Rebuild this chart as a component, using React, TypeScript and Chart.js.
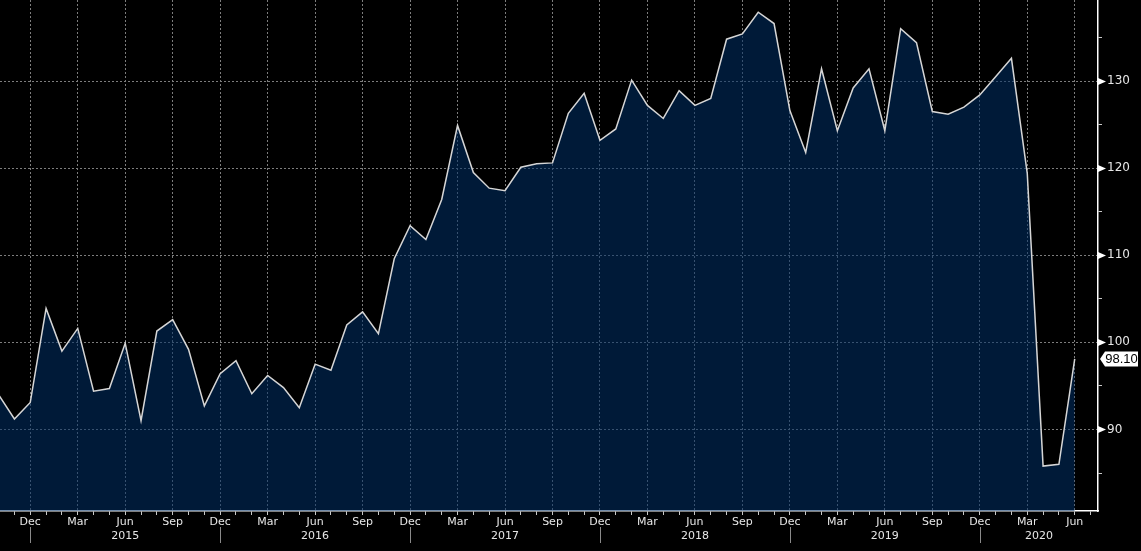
import React, { useEffect, useRef } from 'react';
import { Chart, registerables } from 'chart.js';

Chart.register(...registerables);

// Month index 0 = Oct 2014
const monthNames = ['Jan', 'Feb', 'Mar', 'Apr', 'May', 'Jun', 'Jul', 'Aug', 'Sep', 'Oct', 'Nov', 'Dec'];
const firstMonth = 9; // October (0-based)
const quarterMonths = ['Dec', 'Mar', 'Jun', 'Sep'];
const yearLabels = ['2015', '2016', '2017', '2018', '2019', '2020'];

const values2014 = [94.0, 91.2, 93.1];
const values2015 = [103.9, 99.0, 101.6, 94.4, 94.7, 99.9, 91.0, 101.3, 102.6, 99.2, 92.7, 96.4];
const values2016 = [97.9, 94.1, 96.2, 94.8, 92.5, 97.5, 96.8, 102.0, 103.5, 101.0, 109.6, 113.4];
const values2017 = [111.8, 116.4, 124.9, 119.5, 117.7, 117.4, 120.1, 120.5, 120.6, 126.3, 128.6, 123.2];
const values2018 = [124.5, 130.1, 127.2, 125.7, 128.9, 127.2, 128.0, 134.8, 135.4, 137.9, 136.6, 126.6];
const values2019 = [121.8, 131.4, 124.3, 129.2, 131.4, 124.3, 136.0, 134.4, 126.5, 126.2, 127.0, 128.4];
const values2020 = [130.5, 132.6, 119.4, 85.8, 86.0, 98.1];
const values = [...values2014, ...values2015, ...values2016, ...values2017, ...values2018, ...values2019, ...values2020];

const yTicks = [85, 90, 95, 100, 105, 110, 115, 120, 125, 130, 135];
const yLabelTicks = [90, 100, 110, 120, 130];
const lastLabel = '98.10';

const X_MIN = 0.088;
const X_MAX = 69.47;
const Y_MIN = 80.64;
const Y_MAX = 139.3;

const FONT = '"DejaVu Sans", Verdana, sans-serif';
const BOX_FONT = '"Liberation Sans", Arial, sans-serif';

const monthOf = (i: number) => (firstMonth + i) % 12;
const isQuarter = (i: number) => quarterMonths.includes(monthNames[monthOf(Math.round(i))]);

const overlayPlugin = {
  id: 'overlay',
  afterDraw(chart: any) {
    const { ctx, chartArea, scales } = chart;
    const xs = scales.x;
    const ys = scales.y;
    ctx.save();
    // triangles on major y ticks
    ctx.fillStyle = '#ffffff';
    for (const v of yLabelTicks) {
      const py = Math.round(ys.getPixelForValue(v)) + 0.5;
      const px = chartArea.right;
      ctx.beginPath();
      ctx.moveTo(px, py - 3.5);
      ctx.lineTo(px + 8, py);
      ctx.lineTo(px, py + 3.5);
      ctx.closePath();
      ctx.fill();
    }
    // year separators (at December) and year labels
    const decIdx: number[] = [];
    for (let i = 0; i < values.length; i++) if (monthOf(i) === 11) decIdx.push(i);
    ctx.strokeStyle = '#8a8a8a';
    ctx.lineWidth = 1;
    for (const d of decIdx) {
      const px = Math.round(xs.getPixelForValue(d)) + 0.5;
      ctx.beginPath();
      ctx.moveTo(px, 527);
      ctx.lineTo(px, 543);
      ctx.stroke();
    }
    ctx.fillStyle = '#e6e6e6';
    ctx.font = `11px ${FONT}`;
    ctx.textAlign = 'center';
    ctx.textBaseline = 'middle';
    yearLabels.forEach((lab, k) => {
      const a = xs.getPixelForValue(decIdx[k]);
      const b = k + 1 < decIdx.length ? xs.getPixelForValue(decIdx[k + 1]) : chartArea.right;
      ctx.fillText(lab, (a + b) / 2, 536);
    });
    // last value box
    const lastV = values[values.length - 1];
    const ly = ys.getPixelForValue(lastV);
    const bx = chartArea.right + 2;
    ctx.fillStyle = '#ffffff';
    ctx.beginPath();
    ctx.moveTo(bx, ly);
    ctx.lineTo(bx + 5, ly - 7.5);
    ctx.lineTo(1138, ly - 7.5);
    ctx.lineTo(1138, ly + 7.5);
    ctx.lineTo(bx + 5, ly + 7.5);
    ctx.closePath();
    ctx.fill();
    ctx.fillStyle = '#000000';
    ctx.textAlign = 'center';
    ctx.font = `13px ${BOX_FONT}`;
    ctx.fillText(lastLabel, (bx + 5 + 1138) / 2, ly + 0.5);
    ctx.restore();
  },
};

export default function App() {
  const ref = useRef<HTMLCanvasElement | null>(null);
  useEffect(() => {
    if (!ref.current) return;
    const chart = new Chart(ref.current, {
      type: 'line',
      data: {
        datasets: [
          {
            data: values.map((v, i) => ({ x: i, y: v })),
            borderColor: '#d6d6d6',
            borderWidth: 1.5,
            backgroundColor: 'rgba(0,47,102,0.55)',
            fill: 'start',
            pointRadius: 0,
            tension: 0,
          },
        ],
      },
      options: {
        animation: false,
        responsive: false,
        maintainAspectRatio: false,
        layout: { padding: 0 },
        plugins: { legend: { display: false }, tooltip: { enabled: false } },
        scales: {
          x: {
            type: 'linear',
            min: X_MIN,
            max: X_MAX,
            afterBuildTicks: (s: any) => {
              const t = [];
              for (let i = 1; i <= Math.floor(X_MAX); i++) t.push({ value: i });
              s.ticks = t;
            },
            afterFit: (s: any) => {
              s.height = 40;
              s.paddingLeft = 0;
              s.paddingRight = 0;
            },
            ticks: {
              autoSkip: false,
              maxRotation: 0,
              minRotation: 0,
              padding: 1,
              color: '#e6e6e6',
              font: { family: FONT, size: 11 },
              callback: (v: any) => (isQuarter(Number(v)) ? monthNames[monthOf(Number(v))] : ''),
            },
            grid: {
              display: true,
              drawOnChartArea: true,
              drawTicks: true,
              tickLength: 4,
              tickColor: '#c8c8c8',
              lineWidth: 1,
              color: (c: any) => (c.tick && isQuarter(c.tick.value) ? '#7d7d7d' : 'rgba(0,0,0,0)'),
            },
            border: { display: true, color: '#ffffff', width: 1.5, dash: [2, 2] },
          },
          y: {
            type: 'linear',
            position: 'right',
            min: Y_MIN,
            max: Y_MAX,
            afterBuildTicks: (s: any) => {
              s.ticks = yTicks.map((v) => ({ value: v }));
            },
            afterFit: (s: any) => {
              s.width = 43;
              s.paddingTop = 0;
              s.paddingBottom = 0;
            },
            ticks: {
              autoSkip: false,
              padding: 5,
              color: '#e6e6e6',
              font: { family: FONT, size: 12 },
              callback: (v: any) => (yLabelTicks.includes(Number(v)) ? String(v) : ''),
            },
            grid: {
              display: true,
              drawTicks: true,
              tickLength: 4,
              tickColor: '#c8c8c8',
              lineWidth: 1,
              color: (c: any) => (c.tick && yLabelTicks.includes(c.tick.value) ? '#7d7d7d' : 'rgba(0,0,0,0)'),
            },
            border: { display: true, color: '#ffffff', width: 1.5, dash: [2, 2] },
          },
        },
      },
      plugins: [overlayPlugin],
    });
    return () => chart.destroy();
  }, []);
  return (
    <div style={{ position: 'fixed', left: 0, top: 0, width: 1141, height: 551, background: '#000' }}>
      <canvas ref={ref} width={1141} height={551} style={{ display: 'block', width: 1141, height: 551 }} />
    </div>
  );
}
